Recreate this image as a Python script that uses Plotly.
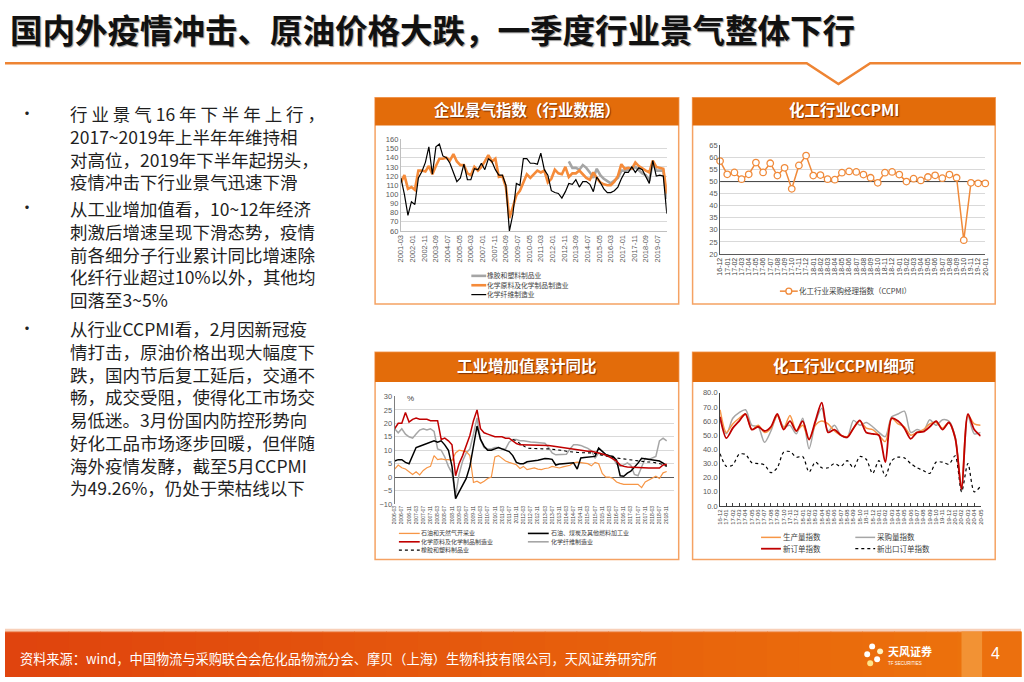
import plotly.graph_objects as go
import pandas as pd

W, H = 1024, 682
CJK = "Noto Sans CJK SC"
NUM = "Liberation Sans, Arial, Noto Sans CJK SC"

# ---------------- Chart 1: 企业景气指数（行业数据） quarterly ----------------
c1_dates = pd.date_range("2001-03-01", periods=77, freq="3MS")
c1_rubber = [None] * 48 + [136, 129, 129, 127, 132, 129, 124, 118, 128, 121,
                           117, 114, 112, 115, 118, 126, 126, 127, 128, 130,
                           127, 123, 121, 115, 135, 126, 126, 126, 95]
c1_chem = [113, 121, 106, 108, 105, 126, 126, 125, 131, 122,
           131, 139, 139, 140, 137, 144, 136, 132, 132, 123,
           121, 130, 126, 130, 136, 143, 136, 139, 119, 120,
           108, 74, 86, 99, 104, 113, 122, 118, 122, 126,
           124, 126, 113, 117, 127, 123, 122, 130, 119, 123,
           123, 126, 122, 118, 116, 124, 118, 113, 111, 110,
           110, 114, 120, 133, 128, 129, 128, 135, 131, 128,
           126, 124, 137, 130, 129, 128, 101]
c1_fiber = [118, 100, 77, 92, 89, 118, 125, 135, 152, 122,
            152, 155, 142, 140, 134, 123, 114, 118, 133, 116,
            116, 128, 127, 134, 127, 139, 136, 127, 121, 121,
            110, 60, 78, 112, 110, 139, 139, 134, 134, 133,
            145, 127, 121, 104, 102, 101, 96, 103, 112, 111,
            116, 108, 114, 114, 111, 103, 119, 113, 106, 102,
            102, 104, 108, 117, 124, 124, 130, 124, 129, 127,
            120, 112, 137, 120, 121, 120, 79]
c1_tick_labels = ["2001-03", "2002-01", "2002-11", "2003-09", "2004-07", "2005-05",
                  "2006-03", "2007-01", "2007-11", "2008-09", "2009-07", "2010-05",
                  "2011-03", "2012-01", "2012-11", "2013-09", "2014-07", "2015-05",
                  "2016-03", "2017-01", "2017-11", "2018-09", "2019-07"]
c1_names = ["橡胶和塑料制品业", "化学原料及化学制品制造业", "化学纤维制造业"]

# ---------------- Chart 2: 化工行业CCPMI ----------------
c2_labels = ["16-12"] + [f"17-{m:02d}" for m in range(1, 13)] + \
            [f"18-{m:02d}" for m in range(1, 13)] + [f"19-{m:02d}" for m in range(1, 13)] + ["20-01"]
c2_ccpmi = [58.5, 53, 53.8, 51, 53, 57.9, 53.8, 57.6, 52.5, 55.7,
            47, 56.7, 60.8, 52.5, 52.7, 51, 50.8, 53.7, 54.2, 54,
            52.9, 51.6, 49.5, 53.7, 54, 52.9, 50, 51.2, 50.5, 51.9,
            52.6, 51.4, 52.9, 51.6, 25.7, 49.5, 49.3, 49.26]
c2_ref = 50
c2_name = "化工行业采购经理指数（CCPMI）"

# ---------------- Chart 3: 工业增加值累计同比 (%) ----------------
c3_dates = pd.date_range("2006-03-01", periods=77, freq="2MS")
c3_oil_gas = [3, 4.5, 3.5, 3, 2, 1, 2, 0.8, 2.5, 3.5,
              4, 8, 6.5, 6.8, 6.5, 6.5, 6.2, 9, 10, 9.8,
              9.5, 8, -2, -1.5, -2.3, -1.5, -0.5, 0, 7.5, 8,
              7, 6, 5.5, 5, 4.6, 3.2, 4, 2.8, 3.1, 3.4,
              3, 2.8, 3.2, 3.4, 4, 3.6, 3.4, 3.8, 4.2, 4.4,
              5.3, 5.6, 5.4, 5.2, 5, 4.2, 5.5, 5, 1.4, 0,
              0, -0.5, -1.8, -2.3, -2.7, -2.7, -2.8, -2.7, -2.7, -3.9,
              -1.8, -1.1, -0.3, 0.3, -0.5, 1.6, 2.1]
c3_refining = [6, 6.5, 6.5, 5.5, 5, 8, 11, 11.5, 12, 12.5,
               13, 13.5, 13, 13.5, 12, 10, 4, -8, -5.5, -3,
               -0.5, 4, 12, 19, 14, 11.5, 10, 10, 10.5, 11,
               10.5, 10, 9.5, 8, 5.5, 5, 5, 5.7, 6, 6.1,
               6.3, 6.6, 6.9, 6.8, 6.6, 4.5, 4.9, 5, 5.1, 5.2,
               5.3, 3, 7.1, 7.3, 7.5, 7.7, 7.7, 10.8, 9.5, 8.4,
               8, 7.7, 6.3, 0.5, 0.3, 1.5, 2.2, 3.6, 5.2, 7,
               6.8, 6.6, 6.4, 6.2, 6, 5.2, 4.3]
c3_chem = [18, 20, 20, 24, 20.5, 21.5, 22, 21.5, 21.5, 21.5,
           21, 21, 21, 14, 14.5, 13.5, 12, 0.5, 5, 8,
           12, 15.5, 21, 25, 18, 16.5, 16, 15.5, 15, 15,
           15, 14.5, 14.5, 13.5, 12.5, 12, 12, 11.8, 12, 11.8,
           11.8, 11.8, 11.8, 11.8, 11.6, 11.4, 11.2, 11, 10.7, 10.4,
           10.2, 10, 9.8, 9.6, 9.6, 9.6, 9.4, 9, 8.6, 8.2,
           7.5, 6.8, 6, 4.5, 4, 3.8, 3.7, 3.7, 3.6, 3.5,
           3.5, 3.4, 3.4, 3.4, 3.4, 4.5, 4.8]
c3_fiber = [18, 16.5, 18, 16, 15, 14.5, 16, 17.5, 18, 17.5,
            18, 17, 10.5, 10, 7.5, 4, 1.5, -7, 1, 6,
            9, 10.5, 16, 22, 14, 11, 10.5, 10.5, 11, 11,
            10.5, 10.5, 13, 14, 14, 13.5, 13.5, 13.2, 13.1, 13,
            12.9, 12.7, 12.6, 11, 9, 8.3, 8.3, 8.3, 8.5, 10.5,
            12, 12, 11.8, 11.2, 10.7, 9.8, 7, 9, 8.5, 8.3,
            7.7, 7.1, 4.9, 4.1, 4.5, 5.3, 4.4, 1, 0.5, 4,
            7, 6.6, 7, 7.7, 13.5, 14.5, 13.5]
c3_rubber = [None] * 33 + [14, 13.5, 12.5, 11.5, 10.8, 10.7, 10.6, 10.5, 10.5, 10.5,
                           10.5, 10.4, 10.3, 10.2, 9.9, 9.6, 9.4, 9.3, 9.2, 9.1,
                           9.1, 9, 9, 8.8, 8.4, 8, 7.7, 7.5, 7.3, 7.1,
                           7, 6.8, 6.6, 6.3, 6.1, 6, 5.8, 5.7, 5.6, 5.6,
                           5.3, 5, 4.7, 3.9]
c3_names = ["石油和天然气开采业", "石油、煤炭及其他燃料加工业", "化学原料及化学制品制造业",
            "化学纤维制造业", "橡胶和塑料制品业"]

# ---------------- Chart 4: 化工行业CCPMI细项 ----------------
c4_labels = ["16-12"] + [f"17-{m:02d}" for m in range(1, 13)] + \
            [f"18-{m:02d}" for m in range(1, 13)] + [f"19-{m:02d}" for m in range(1, 13)] + \
            [f"20-{m:02d}" for m in range(1, 6)]
c4_production = [68, 52, 58, 62, 65, 54, 57, 52, 55, 64,
                 55, 64, 53, 57, 47, 57, 60, 58, 53, 50,
                 49, 55, 60, 55, 54, 50, 45.5, 62, 58, 56,
                 50, 52, 54, 58, 59, 55, 59, 48, 13, 64,
                 58, 57]
c4_purchase = [61, 51, 62, 66, 68, 57, 56, 45, 53, 64,
               56, 57, 51, 62, 40.5, 59, 69, 53, 57, 50,
               48.5, 60.5, 57, 59, 56, 52, 49, 63, 65, 67,
               52, 54, 53, 61, 57, 61, 60, 49, 10, 64,
               51, 52]
c4_new_orders = [63, 48, 55, 60, 65, 54, 56, 53, 56, 65,
                 54, 60, 53, 60, 47, 60, 73, 52, 54, 50,
                 48.5, 55, 60.5, 52, 51, 50, 31, 62, 60, 55,
                 47.5, 52, 52.5, 56, 60, 54, 59, 48, 12, 65,
                 54, 49.5]
c4_export = [37, 28, 29, 36.5, 36.5, 30.5, 30, 29, 23.5, 27,
             38, 38.5, 34.5, 35, 24, 31, 27, 27, 30, 28,
             32, 27, 35, 33, 23, 32, 21, 32, 34.5, 34,
             30, 27, 25, 23, 31, 31, 29.5, 35.5, 10, 30,
             10, 14]
c4_names = ["生产量指数", "采购量指数", "新订单指数", "新出口订单指数"]

# ---------------- page text ----------------
page_title = "国内外疫情冲击、原油价格大跌，一季度行业景气整体下行"
panel_titles = ["企业景气指数（行业数据）", "化工行业CCPMI", "工业增加值累计同比", "化工行业CCPMI细项"]
bullets = [
    ["行 业 景 气 16 年 下 半 年 上 行 ，", "2017~2019年上半年年维持相", "对高位，2019年下半年起拐头，",
     "疫情冲击下行业景气迅速下滑"],
    ["从工业增加值看，10~12年经济", "刺激后增速呈现下滑态势，疫情", "前各细分子行业累计同比增速除",
     "化纤行业超过10%以外，其他均", "回落至3~5%"],
    ["从行业CCPMI看，2月因新冠疫", "情打击，原油价格出现大幅度下", "跌，国内节后复工延后，交通不",
     "畅，成交受阻，使得化工市场交", "易低迷。3月份国内防控形势向", "好化工品市场逐步回暖，但伴随",
     "海外疫情发酵，截至5月CCPMI", "为49.26%，仍处于荣枯线以下"],
]
bullet_first_y = [112, 208, 330]
source_text = "资料来源：wind，中国物流与采购联合会危化品物流分会、摩贝（上海）生物科技有限公司，天风证券研究所"


def X(p):
    return p / W


def Y(p):
    return 1 - p / H


shapes = []
ann = []


def rect(x0, y0, x1, y1, fill, line=None, lw=0, layer="below"):
    shapes.append(dict(type="rect", xref="paper", yref="paper", x0=X(x0), x1=X(x1), y0=Y(y1), y1=Y(y0),
                       fillcolor=fill, line=dict(color=line or fill, width=lw), layer=layer))


def seg(x0, y0, x1, y1, color, width, dash="solid", layer="above"):
    shapes.append(dict(type="line", xref="paper", yref="paper", x0=X(x0), x1=X(x1), y0=Y(y0), y1=Y(y1),
                       line=dict(color=color, width=width, dash=dash), layer=layer))


def text(x, y, s, size, color="#404040", family=CJK, xanchor="left", yanchor="middle", weight="normal",
         shadow=None):
    f = dict(family=family, size=size, color=color, weight=weight)
    if shadow:
        f["shadow"] = shadow
    ann.append(dict(xref="paper", yref="paper", x=X(x), y=Y(y), text=s, showarrow=False,
                    xanchor=xanchor, yanchor=yanchor, font=f, borderpad=0, align="left"))


# title + orange rule with notch
text(4, 25, page_title, 32.5, color="#111111", weight="bold", shadow="1px 1px 1px #9a9a9a")
pts = [(0, 60), (808, 60), (840, 81), (872, 60), (1024, 60)]
path = "M " + " L ".join(f"{X(a):.5f},{Y(b):.5f}" for a, b in pts)
shapes.append(dict(type="path", xref="paper", yref="paper", path=path,
                   line=dict(color="#EE8433", width=2.5), layer="above"))

# bullets (one text block per paragraph)
BODY = 17.5
for para, y0 in zip(bullets, bullet_first_y):
    text(13, y0 - 3, "•", 16, color="#222222")
    ytop = y0 - 0.5 * BODY * 1.3 - 3
    text(64, ytop, "<br>".join(para), BODY, color="#1f1f1f", yanchor="top")

# panels
panels = [(373, 95, 679, 304, 28), (693, 95, 998, 304, 28),
          (373, 353, 679, 563, 30), (693, 353, 998, 563, 30)]
for (x0, y0, x1, y1, hh), t in zip(panels, panel_titles):
    rect(x0, y0, x1, y1, "#FFFFFF", line="#F5A263", lw=1.5)
    rect(x0, y0, x1, y0 + hh, "#E36C0A")
    text((x0 + x1) / 2, y0 + hh / 2 - 2.5, t, 15.5, color="#FFFFFF", xanchor="center", weight="bold",
         shadow="1px 1px 1px rgba(110,40,0,0.85)")

# footer gradient
n = 32
c_left, c_right = (224, 68, 14), (237, 116, 12)
for i in range(n):
    t = i / (n - 1)
    c = tuple(int(c_left[k] + (c_right[k] - c_left[k]) * t) for k in range(3))
    rect(i * W / n, 636, (i + 1) * W / n + 0.8, 682, f"rgb{c}")
rect(0, 633, 1024, 637, "rgba(240,150,100,0.45)")
rect(964, 636, 985, 682, "rgb(242,146,52)")
rect(985, 636, 1024, 682, "rgb(236,112,14)")
text(14, 663, source_text, 13.2, color="#FFFFFF")
text(998, 658, "4", 16, color="#FFFFFF", family=NUM, xanchor="center")
# logo
for cx, cy, col in [(874, 651, "#FFFFFF"), (882, 656, "#FFF3C0"), (869, 659, "#FFFFFF"),
                    (879, 664, "#FFFFFF"), (872, 668, "#FFE58A")]:
    shapes.append(dict(type="circle", xref="paper", yref="paper", x0=X(cx - 3), x1=X(cx + 3),
                       y0=Y(cy + 3), y1=Y(cy - 3), fillcolor=col, line=dict(width=0), layer="above"))
text(889, 656, "天风证券", 11, color="#FFFFFF", weight="bold")
text(889, 668, "TF SECURITIES", 4.5, color="#FFFFFF", family=NUM)

# legends (manual)
LEG = "#404040"
# chart 1
for (yy, col, w), s in zip([(275.5, "#A5A5A5", 2.6), (285, "#F58B3A", 2.6), (294.5, "#000000", 1.2)], c1_names):
    seg(470, yy, 485, yy, col, w)
    text(485, yy - 0.5, s, 6.8, color=LEG)
# chart 2
seg(781, 291, 799, 291, "#F08A3A", 1.5)
shapes.append(dict(type="circle", xref="paper", yref="paper", x0=X(787), x1=X(793), y0=Y(294), y1=Y(288),
                   fillcolor="#FFFFFF", line=dict(color="#F08A3A", width=1.3), layer="above"))
text(799, 290.5, c2_name, 7.5, color=LEG)
# chart 3
c3_leg = [(397, 418, 536.5, "#F79646", 1.3, "solid"), (527, 549, 536.5, "#000000", 1.6, "solid"),
          (397, 418, 545, "#C00000", 1.6, "solid"), (527, 549, 545, "#A6A6A6", 1.6, "solid"),
          (397, 418, 553.5, "#000000", 1.2, "dot")]
for (xa, xt, yy, col, w, d), s in zip(c3_leg, c3_names):
    seg(xa, yy, xa + 21, yy, col, w, dash=d)
    text(xt, yy - 0.5, s, 6, color=LEG)
# chart 4
c4_leg = [(762, 783, 540.5, "#F79646", 1.5, "solid"), (857, 878, 540.5, "#A6A6A6", 1.5, "solid"),
          (762, 783, 552, "#C00000", 1.8, "solid"), (857, 878, 552, "#000000", 1.2, "dot")]
for (xa, xt, yy, col, w, d), s in zip(c4_leg, c4_names):
    seg(xa, yy, xa + 20, yy, col, w, dash=d)
    text(xt, yy - 0.5, s, 7.5, color=LEG)

# "%" label on chart 3
text(404, 400, "%", 8, color="#404040", family=NUM)

fig = go.Figure()
# chart 1
fig.add_trace(go.Scatter(x=c1_dates, y=c1_rubber, xaxis="x", yaxis="y", mode="lines",
                         line=dict(color="#A5A5A5", width=2.6), name=c1_names[0]))
fig.add_trace(go.Scatter(x=c1_dates, y=c1_chem, xaxis="x", yaxis="y", mode="lines",
                         line=dict(color="#F58B3A", width=2.6), name=c1_names[1]))
fig.add_trace(go.Scatter(x=c1_dates, y=c1_fiber, xaxis="x", yaxis="y", mode="lines",
                         line=dict(color="#000000", width=1.2), name=c1_names[2]))
# chart 2
c2_x = list(range(len(c2_labels)))
fig.add_trace(go.Scatter(x=[c2_x[0], c2_x[-1]], y=[c2_ref, c2_ref], xaxis="x2", yaxis="y2", mode="lines",
                         line=dict(color="#404040", width=1), hoverinfo="skip"))
fig.add_trace(go.Scatter(x=c2_x, y=c2_ccpmi, xaxis="x2", yaxis="y2", mode="lines+markers",
                         line=dict(color="#F08A3A", width=1.5), cliponaxis=False,
                         marker=dict(symbol="circle", size=6.5, color="#FFFFFF",
                                     line=dict(color="#F08A3A", width=1.3)), name=c2_name))
# chart 3
for y, col, w, d, nm in [(c3_fiber, "#A6A6A6", 1.5, "solid", c3_names[3]),
                          (c3_oil_gas, "#F79646", 1.2, "solid", c3_names[0]),
                          (c3_rubber, "#000000", 1.1, "dot", c3_names[4]),
                          (c3_refining, "#000000", 1.5, "solid", c3_names[1]),
                          (c3_chem, "#C00000", 1.5, "solid", c3_names[2])]:
    fig.add_trace(go.Scatter(x=c3_dates, y=y, xaxis="x3", yaxis="y3", mode="lines",
                             line=dict(color=col, width=w, dash=d), name=nm))
# chart 4
c4_x = list(range(len(c4_labels)))
for y, col, w, d, nm in [(c4_purchase, "#A6A6A6", 1.5, "solid", c4_names[1]),
                          (c4_production, "#F79646", 1.5, "solid", c4_names[0]),
                          (c4_export, "#000000", 1.2, "dot", c4_names[3]),
                          (c4_new_orders, "#C00000", 1.8, "solid", c4_names[2])]:
    fig.add_trace(go.Scatter(x=c4_x, y=y, xaxis="x4", yaxis="y4", mode="lines",
                             line=dict(color=col, width=w, dash=d, shape="spline", smoothing=0.8), name=nm))

TICK = dict(family=NUM, size=7.5, color="#595959")
GRID = "#D9D9D9"
c1_tickvals = [s + "-01" for s in c1_tick_labels]
c3_tick_dates = list(c3_dates[::2])
c3_ticktext = [d.strftime("%Y-%m") for d in c3_tick_dates]

fig.update_layout(
    width=W, height=H, margin=dict(l=0, r=0, t=0, b=0),
    paper_bgcolor="#FFFFFF", plot_bgcolor="rgba(0,0,0,0)",
    showlegend=False, shapes=shapes, annotations=ann,
    font=dict(family=NUM),
    xaxis=dict(domain=[X(399), X(667)], anchor="y", type="date", range=["2001-03-01", "2020-03-01"],
               tickmode="array", tickvals=c1_tickvals, ticktext=c1_tick_labels, tickangle=-90,
               tickfont=dict(family=NUM, size=7.5, color="#595959"), showgrid=False,
               showline=True, linecolor="#BFBFBF", ticks="", fixedrange=True),
    yaxis=dict(domain=[Y(230), Y(137.3)], anchor="x", range=[60, 160], tick0=60, dtick=10,
               tickfont=TICK, showgrid=True, gridcolor=GRID, gridwidth=0.8, zeroline=False,
               showline=True, linecolor="#BFBFBF", ticks="", fixedrange=True),
    xaxis2=dict(domain=[X(720.7), X(988)], anchor="y2", range=[0, 37], tickmode="array",
                tickvals=c2_x, ticktext=c2_labels, tickangle=-90,
                tickfont=dict(family=NUM, size=7, color="#404040"), showgrid=False, zeroline=False,
                showline=True, linecolor="#595959", ticks="", fixedrange=True),
    yaxis2=dict(domain=[Y(253.3), Y(143.3)], anchor="x2", range=[20, 65], tick0=20, dtick=5,
                tickfont=TICK, showgrid=True, gridcolor=GRID, gridwidth=0.8, zeroline=False,
                showline=True, linecolor="#595959", ticks="", fixedrange=True),
    xaxis3=dict(domain=[X(392.7), X(674)], anchor="y3", type="date", range=["2006-03-01", "2019-03-01"],
                tickmode="array", tickvals=c3_tick_dates, ticktext=c3_ticktext, tickangle=-90,
                tickfont=dict(family=NUM, size=5, color="#404040"), showgrid=False,
                showline=False, ticks="", fixedrange=True),
    yaxis3=dict(domain=[Y(506.7), Y(397.7)], anchor="x3", range=[-10, 30], tick0=-10, dtick=5,
                tickfont=TICK, showgrid=True, gridcolor=GRID, gridwidth=0.8,
                zeroline=True, zerolinecolor="#595959", zerolinewidth=1,
                showline=True, linecolor="#7F7F7F", ticks="", fixedrange=True),
    xaxis4=dict(domain=[X(720.7), X(983.3)], anchor="y4", range=[0, 41], tickmode="array",
                tickvals=c4_x, ticktext=c4_labels, tickangle=-90,
                tickfont=dict(family=NUM, size=6, color="#404040"), showgrid=False, zeroline=False,
                showline=True, linecolor="#404040", ticks="inside", ticklen=3, tickcolor="#404040",
                fixedrange=True),
    yaxis4=dict(domain=[Y(508.7), Y(394)], anchor="x4", range=[0, 80], tick0=0, dtick=10,
                tickformat=".1f", tickfont=TICK, showgrid=False, zeroline=False,
                showline=True, linecolor="#404040", ticks="", fixedrange=True),
)

fig.write_html("out.html", config={"displayModeBar": False},
               post_script="document.documentElement.style.margin='0';document.body.style.margin='0';"
                           "document.body.style.overflow='hidden';")
